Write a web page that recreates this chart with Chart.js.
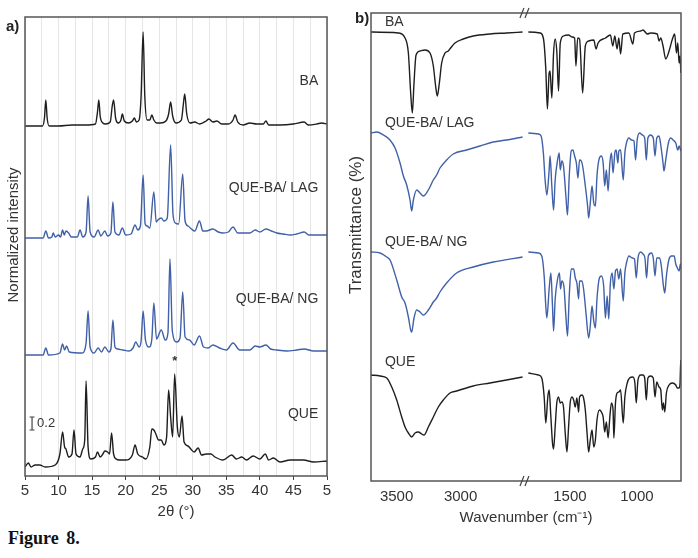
<!DOCTYPE html>
<html><head><meta charset="utf-8">
<script src="https://cdn.jsdelivr.net/npm/chart.js@4.4.1/dist/chart.umd.min.js"></script>
<style>
html,body{margin:0;padding:0;background:#fff;width:698px;height:558px;overflow:hidden;}
#wrapA{position:absolute;left:0;top:0;width:340px;height:521px;}
#wrapB{position:absolute;left:340px;top:0;width:358px;height:527px;}
#fig{position:absolute;left:8px;top:528px;font:bold 18px "Liberation Serif","Times New Roman",serif;line-height:20px;color:#111;word-spacing:3px;}
</style></head><body>
<div id="wrapA"><canvas id="chartA" width="340" height="521"></canvas></div>
<div id="wrapB"><canvas id="chartB" width="358" height="527"></canvas></div>
<div id="fig">Figure 8.</div>
<script>
// ================= Panel a : PXRD (2θ, intensity above trace baseline) =================
const xrdTickLabels = ['5','10','15','20','25','30','35','40','45','5'];
const xrdNames = ['BA','QUE-BA/ LAG','QUE-BA/ NG','QUE'];
const xrdBA = [[5,0],[7.6,0],[7.9,8],[8.1,26],[8.3,8],[8.6,0],[10,0],[12,1],[14,1],[15.5,2],[15.8,14],[16.0,26],[16.2,10],[16.6,3],[17.0,2],[17.7,4],[18.0,20],[18.2,26],[18.5,8],[18.9,3],[19.3,6],[19.5,12],[19.8,5],[20.4,3],[21.0,5],[21.3,8],[21.6,4],[22.0,6],[22.3,30],[22.6,94],[22.85,30],[23.2,6],[23.6,6],[23.9,11],[24.2,6],[24.6,3],[25.2,3],[26.0,5],[26.4,12],[26.7,24],[27.0,10],[27.5,3],[28.3,6],[28.6,22],[28.8,32],[29.1,12],[29.6,3],[30.3,4],[31.0,2],[32.0,5],[32.4,7],[33.0,4],[33.6,5],[34.3,2],[35.3,2],[36.0,6],[36.3,11],[36.7,4],[37.5,1],[38.5,3],[39.5,2],[40.5,2],[40.9,5],[41.3,1],[43,1],[45,2],[46.6,4],[47.2,1],[48.5,2],[49.2,3],[50,2]];
const xrdLAG = [[5,0],[7.7,0],[8.1,7],[8.5,0],[9.0,1],[9.2,5],[9.5,1],[10.0,3],[10.3,1],[10.6,8],[10.85,3],[11.1,7],[11.5,5],[11.9,1],[12.8,1],[13.2,8],[13.6,1],[14.1,6],[14.4,42],[14.7,6],[15.3,1],[15.9,8],[16.3,2],[16.9,7],[17.3,2],[17.8,5],[18.1,36],[18.4,6],[19.0,3],[19.5,10],[20.0,3],[20.8,4],[21.4,13],[21.8,8],[22.2,12],[22.6,63],[22.9,14],[23.2,12],[23.6,10],[24.2,46],[24.55,16],[24.8,18],[25.3,20],[25.7,17],[26.2,20],[26.7,93],[27.05,24],[27.4,15],[27.9,14],[28.5,64],[28.85,17],[29.3,12],[29.8,9],[30.3,7],[31.0,17],[31.5,7],[32.0,7],[33.0,9],[33.8,6],[34.5,5],[35.3,6],[36.0,11],[36.7,5],[37.5,5],[38.5,5],[39.3,8],[40.0,6],[40.9,9],[41.7,7],[42.5,5],[43.5,4],[44.5,3],[45.5,4],[46.6,6],[47.3,3],[48.5,3],[50,3]];
const xrdNG = [[5,0],[7.7,0],[8.1,7],[8.5,0],[10.2,2],[10.6,11],[10.9,5],[11.2,9],[11.6,3],[13.5,2],[14.1,12],[14.4,44],[14.7,8],[15.3,2],[15.9,7],[16.4,3],[16.9,8],[17.5,3],[17.8,6],[18.1,35],[18.4,8],[18.8,6],[19.6,5],[20.5,4],[21.1,7],[21.5,13],[22.0,8],[22.3,14],[22.6,44],[22.95,15],[23.5,8],[23.9,16],[24.2,52],[24.6,16],[25.3,25],[25.9,15],[26.3,22],[26.6,96],[26.95,24],[27.6,13],[28.1,17],[28.5,63],[28.85,18],[29.5,15],[30.2,10],[31.0,19],[31.6,8],[32.3,7],[33.0,10],[34.0,7],[35.0,5],[36.0,12],[37.0,5],[38.5,5],[39.3,9],[40.0,8],[40.9,10],[41.6,6],[42.5,5],[44.0,4],[45.5,5],[46.6,6],[48.0,4],[50,4]];
const xrdQUE = [[5,0],[5.5,4],[5.9,0],[6.5,2],[7.2,2],[8,0],[9.5,2],[10.2,13],[10.6,35],[10.9,20],[11.1,18],[11.5,10],[12.0,13],[12.3,37],[12.6,13],[13.2,10],[13.6,18],[13.9,27],[14.1,86],[14.4,20],[14.8,8],[15.5,10],[15.8,15],[16.2,10],[16.6,13],[16.9,16],[17.3,15],[17.6,13],[17.9,34],[18.2,13],[18.6,8],[19.0,7],[20.0,7],[21.0,12],[21.4,22],[21.8,13],[22.5,10],[23.0,8],[23.6,20],[23.9,38],[24.2,37],[24.5,33],[24.9,27],[25.3,27],[25.7,22],[26.1,30],[26.4,77],[26.7,50],[27.0,30],[27.3,93],[27.7,40],[28.0,30],[28.4,51],[28.7,25],[29.3,21],[29.7,18],[30.2,15],[30.8,19],[31.3,12],[32.0,13],[32.7,13],[33.3,10],[34.5,7],[35.8,12],[36.5,8],[37.3,10],[38.0,7],[39.0,11],[40.0,8],[40.8,13],[41.3,7],[42.0,9],[43,5],[44.5,7],[46.5,7],[48,5],[50,6]];
const xrdOffsets = [350, 238, 121, 9];
const xrdScaleBarSize = 13;          // the "0.2" bar, in chart units
const xrdScaleBarLabel = '0.2';
const xrdStarPeak = 27.3;            // peak marked with *

// ================= Panel b : FTIR (wavenumber, transmittance relative to trace baseline) =================
const irTickValues = [3500, 3000, 1500, 1000];
const irTickLabels = ['3500','3000','1500','1000'];
const irNames = ['BA','QUE-BA/ LAG','QUE-BA/ NG','QUE'];
const irBA_hi = [[3700,0],[3486,-1],[3434,-6],[3408,-21],[3390,-61],[3377,-81],[3364,-51],[3348,-23],[3317,-19],[3278,-18],[3239,-21],[3213,-34],[3195,-54],[3182,-64],[3166,-51],[3148,-31],[3122,-21],[3096,-19],[3078,-16],[3044,-11],[2979,-7],[2901,-4],[2771,-2],[2641,-1],[2516,0]];
const irBA_lo = [[1810,0],[1722,-1],[1697,-7],[1680,-37],[1668,-77],[1655,-41],[1648,-39],[1635,-66],[1622,-21],[1610,-7],[1598,-19],[1585,-59],[1572,-11],[1548,-4],[1510,-3],[1485,-5],[1465,-6],[1455,-34],[1442,-6],[1428,-7],[1405,-61],[1385,-14],[1360,-9],[1322,-8],[1305,-17],[1290,-11],[1235,-6],[1198,-3],[1180,-14],[1165,-4],[1148,-17],[1135,-6],[1122,-22],[1105,-2],[1060,-1],[1030,-12],[1018,-1],[972,1],[955,2],[922,-2],[898,-1],[848,-2],[835,-9],[822,-6],[805,-14],[785,-27],[760,-19],[735,-7],[718,-2],[705,-21],[695,-11],[685,-31],[678,-24],[672,-41]];
const irLAG_hi = [[3700,0],[3655,1],[3603,-2],[3552,-7],[3512,-15],[3473,-30],[3447,-43],[3421,-52],[3395,-67],[3382,-78],[3369,-67],[3343,-57],[3317,-60],[3291,-63],[3252,-57],[3213,-47],[3187,-42],[3161,-35],[3109,-27],[3057,-21],[2953,-17],[2849,-13],[2745,-9],[2641,-7],[2516,-4]];
const irLAG_lo = [[1810,0],[1735,-1],[1715,-3],[1698,-20],[1685,-47],[1672,-62],[1655,-37],[1648,-23],[1635,-53],[1622,-77],[1610,-47],[1592,-27],[1580,-20],[1572,-37],[1560,-28],[1548,-33],[1530,-63],[1518,-82],[1505,-43],[1490,-18],[1478,-17],[1465,-23],[1452,-30],[1440,-45],[1428,-27],[1415,-28],[1405,-33],[1385,-53],[1368,-73],[1360,-85],[1348,-70],[1335,-53],[1322,-70],[1310,-73],[1298,-43],[1280,-25],[1265,-23],[1252,-30],[1240,-53],[1228,-37],[1215,-58],[1202,-30],[1190,-20],[1178,-40],[1165,-20],[1155,-17],[1142,-30],[1135,-18],[1122,-17],[1102,-47],[1090,-20],[1078,-10],[1060,-5],[1040,-7],[1022,-8],[1010,-27],[998,-7],[980,0],[960,-2],[942,-5],[930,-27],[918,-5],[898,-2],[878,-5],[865,-23],[852,-5],[835,-3],[822,-12],[805,-30],[798,-38],[785,-27],[765,-10],[748,-5],[730,-7],[710,-10],[695,-17],[685,-13],[672,-18]];
const irNG_hi = [[3700,0],[3629,-1],[3577,-5],[3551,-8],[3499,-28],[3460,-45],[3434,-51],[3408,-65],[3390,-78],[3382,-80],[3364,-66],[3343,-58],[3317,-60],[3291,-63],[3252,-58],[3213,-50],[3187,-46],[3161,-40],[3109,-31],[3031,-21],[2901,-15],[2745,-10],[2516,-5]];
const irNG_lo = [[1810,0],[1735,-1],[1710,-4],[1692,-24],[1680,-54],[1672,-66],[1655,-37],[1642,-21],[1630,-54],[1622,-79],[1610,-47],[1592,-27],[1578,-21],[1570,-37],[1560,-29],[1545,-34],[1530,-64],[1518,-84],[1505,-44],[1490,-17],[1472,-17],[1460,-26],[1448,-31],[1435,-47],[1428,-29],[1410,-29],[1398,-37],[1380,-61],[1360,-86],[1348,-74],[1335,-54],[1322,-69],[1310,-76],[1298,-47],[1280,-26],[1265,-24],[1248,-34],[1235,-66],[1222,-44],[1210,-67],[1198,-31],[1185,-21],[1172,-37],[1160,-19],[1148,-17],[1135,-27],[1122,-17],[1102,-49],[1090,-21],[1078,-11],[1060,-4],[1035,-6],[1018,-7],[1005,-26],[992,-6],[972,0],[955,-2],[940,-6],[928,-26],[915,-4],[892,-1],[878,-6],[865,-24],[852,-6],[830,-6],[818,-14],[802,-34],[792,-41],[780,-24],[760,-7],[742,-4],[722,-4],[710,-12],[698,-16],[685,-19],[675,-12],[672,-17]];
const irQUE_hi = [[3700,0],[3629,-1],[3577,-3],[3538,-12],[3499,-25],[3460,-42],[3434,-52],[3408,-58],[3382,-62],[3356,-58],[3330,-57],[3304,-59],[3286,-60],[3252,-52],[3213,-42],[3174,-32],[3135,-25],[3083,-18],[3031,-16],[2901,-11],[2771,-8],[2641,-5],[2516,-2]];
const irQUE_lo = [[1810,2],[1735,0],[1710,-3],[1692,-22],[1680,-48],[1665,-22],[1655,-15],[1642,-42],[1630,-68],[1622,-74],[1610,-52],[1598,-28],[1585,-22],[1572,-28],[1560,-27],[1548,-32],[1535,-58],[1522,-77],[1510,-52],[1498,-28],[1485,-22],[1472,-25],[1460,-32],[1448,-23],[1435,-37],[1428,-22],[1410,-20],[1398,-23],[1385,-35],[1372,-58],[1360,-77],[1348,-65],[1335,-55],[1322,-72],[1310,-65],[1298,-45],[1280,-35],[1265,-37],[1252,-42],[1240,-57],[1228,-47],[1215,-63],[1202,-42],[1190,-28],[1178,-35],[1172,-63],[1160,-28],[1148,-18],[1135,-17],[1122,-15],[1102,-48],[1090,-22],[1072,-8],[1055,-3],[1030,-2],[1015,-8],[1005,-28],[992,-5],[972,0],[955,0],[942,-3],[930,-25],[918,-3],[898,-1],[878,-3],[865,-22],[852,-7],[835,-12],[822,-15],[810,-35],[802,-28],[792,-37],[780,-18],[760,-10],[735,-8],[710,-10],[698,-13],[685,-13],[678,-8],[675,6],[672,15]];
const irOffsets = [449, 348, 229, 106];

// ================= styling =================
const FONT = '"Liberation Sans", Arial, Helvetica, sans-serif';
const TXT = '#333';
const FRAME = '#555';
const COLORS = ['#1e1e1e', '#4060a8', '#4060a8', '#1e1e1e'];

// broken wavenumber axis: 3700–2500 and 1800–650 share one linear scale
function toAxis(wn) { return wn >= 2000 ? 3700 - wn : 1240 + (1800 - wn) * 1.047; }

const commonOpts = {
  responsive: false, animation: false, devicePixelRatio: 1, events: [],
  plugins: { legend: { display: false }, tooltip: { enabled: false } },
  elements: { point: { radius: 0 }, line: { borderWidth: 1.4, cubicInterpolationMode: 'monotone', fill: false } }
};

// ---------- Panel a ----------
const xrdSeries = [xrdBA, xrdLAG, xrdNG, xrdQUE];
const dsA = xrdSeries.map((s, i) => ({
  label: xrdNames[i],
  data: s.map(p => ({ x: p[0], y: p[1] + xrdOffsets[i] })),
  borderColor: COLORS[i]
}));

const panelAPlugin = {
  id: 'panelA',
  afterDatasetsDraw(chart) {
    const { ctx, chartArea: ca, scales: { x, y } } = chart;
    ctx.save();
    ctx.strokeStyle = FRAME; ctx.lineWidth = 1.5;
    ctx.strokeRect(ca.left, ca.top, ca.right - ca.left, ca.bottom - ca.top);
    ctx.fillStyle = TXT;
    ctx.font = '14px ' + FONT; ctx.textAlign = 'right'; ctx.textBaseline = 'middle';
    const labelYs = [395, 288, 177, 62];
    xrdNames.forEach((t, i) => ctx.fillText(t, x.getPixelForValue(48.7), y.getPixelForValue(labelYs[i])));
    // asterisk above marked QUE peak
    const qPeak = xrdQUE.find(p => p[0] === xrdStarPeak);
    ctx.textAlign = 'center'; ctx.font = 'bold 13px ' + FONT;
    ctx.fillText('*', x.getPixelForValue(xrdStarPeak), y.getPixelForValue(qPeak[1] + xrdOffsets[3] + 13));
    // scale bar
    const bx = x.getPixelForValue(6.05), yb0 = y.getPixelForValue(46), yb1 = y.getPixelForValue(46 + xrdScaleBarSize);
    ctx.strokeStyle = '#444'; ctx.lineWidth = 1.2;
    ctx.beginPath();
    ctx.moveTo(bx, yb0); ctx.lineTo(bx, yb1);
    ctx.moveTo(bx - 2.5, yb0); ctx.lineTo(bx + 2.5, yb0);
    ctx.moveTo(bx - 2.5, yb1); ctx.lineTo(bx + 2.5, yb1);
    ctx.stroke();
    ctx.font = '13px ' + FONT; ctx.textAlign = 'left';
    ctx.fillText(xrdScaleBarLabel, bx + 5, (yb0 + yb1) / 2);
    // panel letter and y title
    ctx.font = 'bold 15px ' + FONT; ctx.fillStyle = '#222';
    ctx.fillText('a)', 6, 27);
    ctx.fillStyle = TXT; ctx.font = '15px ' + FONT; ctx.textAlign = 'center';
    ctx.translate(14, 235); ctx.rotate(-Math.PI / 2);
    ctx.fillText('Normalized intensity', 0, 0);
    ctx.restore();
  }
};

new Chart(document.getElementById('chartA'), {
  type: 'line',
  data: { datasets: dsA },
  options: Object.assign({}, commonOpts, {
    layout: { padding: { left: 25, right: 13, top: 17, bottom: 0 } },
    scales: {
      x: {
        type: 'linear', min: 5, max: 50,
        border: { display: false },
        grid: {
          color: '#e6e6e6', lineWidth: 1, drawTicks: true, tickLength: 4,
          tickColor: c => (c.tick && Math.abs(c.tick.value % 5) < 1e-6) ? '#444' : 'rgba(0,0,0,0)'
        },
        ticks: {
          stepSize: 2.5, autoSkip: false, maxRotation: 0, minRotation: 0, padding: 1.5,
          color: TXT, font: { family: FONT, size: 15 },
          callback: v => (Math.abs(v % 5) < 1e-6) ? xrdTickLabels[Math.round((v - 5) / 5)] : ''
        },
        title: { display: true, text: '2θ (°)', color: TXT, font: { family: FONT, size: 15 }, padding: { top: 2, bottom: 0 } }
      },
      y: { type: 'linear', display: false, min: 0, max: 459 }
    }
  }),
  plugins: [panelAPlugin]
});

// ---------- Panel b ----------
const irSeries = [[irBA_hi, irBA_lo], [irLAG_hi, irLAG_lo], [irNG_hi, irNG_lo], [irQUE_hi, irQUE_lo]];
const dsB = irSeries.map((seg, i) => ({
  label: irNames[i],
  data: seg[0].map(p => ({ x: toAxis(p[0]), y: p[1] + irOffsets[i] }))
    .concat([{ x: toAxis(2150), y: null }])
    .concat(seg[1].map(p => ({ x: toAxis(p[0]), y: p[1] + irOffsets[i] }))),
  borderColor: COLORS[i],
  spanGaps: false
}));

const panelBPlugin = {
  id: 'panelB',
  afterDatasetsDraw(chart) {
    const { ctx, chartArea: ca, scales: { x, y } } = chart;
    ctx.save();
    ctx.strokeStyle = FRAME; ctx.lineWidth = 1.5;
    ctx.strokeRect(ca.left, ca.top, ca.right - ca.left, ca.bottom - ca.top);
    // axis break marks
    const xc = x.getPixelForValue((toAxis(2516) + toAxis(1810)) / 2);
    ctx.lineWidth = 1.2; ctx.strokeStyle = '#444';
    [ca.top, ca.bottom].forEach(yy => {
      ctx.beginPath();
      ctx.moveTo(xc - 5.5, yy + 5); ctx.lineTo(xc - 1.5, yy - 5);
      ctx.moveTo(xc - 0.5, yy + 5); ctx.lineTo(xc + 3.5, yy - 5);
      ctx.stroke();
    });
    ctx.fillStyle = TXT; ctx.font = '14px ' + FONT; ctx.textAlign = 'left'; ctx.textBaseline = 'middle';
    const labelYs = [459, 358, 239, 119];
    irNames.forEach((t, i) => ctx.fillText(t, x.getPixelForValue(toAxis(3591)), y.getPixelForValue(labelYs[i])));
    ctx.font = 'bold 15px ' + FONT; ctx.fillStyle = '#222';
    ctx.fillText('b)', 15, 19);
    ctx.fillStyle = TXT; ctx.font = '17px ' + FONT; ctx.textAlign = 'center';
    ctx.translate(16, 225); ctx.rotate(-Math.PI / 2);
    ctx.fillText('Transmittance (%)', 0, 0);
    ctx.restore();
  }
};

new Chart(document.getElementById('chartB'), {
  type: 'line',
  data: { datasets: dsB },
  options: Object.assign({}, commonOpts, {
    layout: { padding: { left: 31, right: 17, top: 13, bottom: 0 } },
    scales: {
      x: {
        type: 'linear', min: toAxis(3700), max: toAxis(671),
        border: { display: false },
        grid: { drawOnChartArea: false, drawTicks: true, tickLength: 5, tickColor: 'rgba(0,0,0,0)' },
        afterBuildTicks: s => { s.ticks = irTickValues.map(w => ({ value: toAxis(w) })); },
        ticks: {
          autoSkip: false, maxRotation: 0, minRotation: 0, padding: 2,
          color: TXT, font: { family: FONT, size: 15 },
          callback: (v, i) => irTickLabels[i]
        },
        title: { display: true, text: 'Wavenumber (cm⁻¹)', color: TXT, font: { family: FONT, size: 15 }, padding: { top: 1, bottom: 0 } }
      },
      y: { type: 'linear', display: false, min: 0, max: 468 }
    }
  }),
  plugins: [panelBPlugin]
});
</script></body></html>
